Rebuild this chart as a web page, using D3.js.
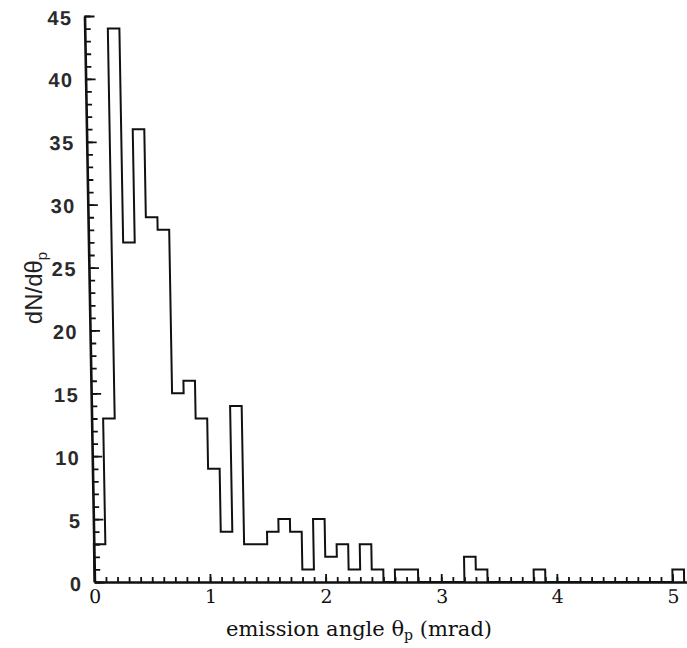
<html>
<head>
<meta charset="utf-8">
<title>Emission angle histogram</title>
<script src="https://d3js.org/d3.v7.min.js"></script>
<style>
  body { margin: 0; padding: 0; background: white; }
  .ylab { font-family: "Liberation Sans", Arial, sans-serif; font-size: 20px; font-weight: bold;
          letter-spacing: 1.5px; fill: #2a2a2a; }
  .xlab { font-family: "DejaVu Serif", serif; font-size: 19px; fill: #111; }
</style>
</head>
<body>
<script>
  var w = 687, h = 648;

  // counts per 0.1 mrad bin, starting at 0
  var binWidth = 0.1;
  var counts = [3, 13, 44, 27, 36, 29, 28, 15, 16, 13,
                9, 4, 14, 3, 3, 4, 5, 4, 1, 5,
                2, 3, 1, 3, 1, 0, 1, 1, 0, 0,
                0, 0, 2, 1, 0, 0, 0, 0, 1, 0,
                0, 0, 0, 0, 0, 0, 0, 0, 0, 0,
                1];
  var xMajor = [0, 1, 2, 3, 4, 5];
  var yMajor = [0, 5, 10, 15, 20, 25, 30, 35, 40, 45];

  var x = d3.scaleLinear().domain([0, 5.12]).range([94.5, 686.5]);
  var y = d3.scaleLinear().domain([0, 45]).range([582, 16]);

  var svg = d3.select("body").append("svg")
      .attr("width", w)
      .attr("height", h);

  svg.append("rect").attr("width", w).attr("height", h).attr("fill", "white");

  // the scanned figure leans a little to the left going up
  var g = svg.append("g")
      .attr("transform", "translate(" + (-0.0177 * 582) + ",0) skewX(1.01)");

  // minor ticks
  g.append("g")
      .attr("transform", "translate(0," + y(0) + ")")
      .call(d3.axisBottom(x).tickValues(d3.range(0, 51).map(function(i) { return i / 10; }))
            .tickSize(-5).tickFormat(""))
      .call(function(s) { s.select(".domain").remove(); });
  g.append("g")
      .attr("transform", "translate(" + x(0) + ",0)")
      .call(d3.axisLeft(y).tickValues(d3.range(0, 46)).tickSize(-6).tickFormat(""))
      .call(function(s) { s.select(".domain").remove(); });

  // major ticks + labels
  var xAxis = g.append("g")
      .attr("transform", "translate(0," + y(0) + ")")
      .call(d3.axisBottom(x).tickValues(xMajor).tickSize(-8).tickPadding(8)
            .tickSizeOuter(0).tickFormat(d3.format("d")));
  xAxis.selectAll("text").attr("class", "xlab").attr("font-family", null).attr("font-size", null)
      .attr("fill", null);

  var yAxis = g.append("g")
      .attr("transform", "translate(" + x(0) + ",0)")
      .call(d3.axisLeft(y).tickValues(yMajor).tickSize(-10).tickPadding(12)
            .tickSizeOuter(0).tickFormat(d3.format("d")));
  yAxis.selectAll("text").attr("class", "ylab").attr("font-family", null).attr("font-size", null)
      .attr("fill", null).attr("dy", "0.4em");

  g.selectAll(".tick line").attr("stroke", "#111").attr("stroke-width", 1.8);
  g.selectAll(".domain").attr("stroke", "#111").attr("stroke-width", 2.6);

  // histogram outline
  var p = d3.path();
  p.moveTo(x(0), y(0));
  counts.forEach(function(c, i) {
    p.lineTo(x(i * binWidth), y(c));
    p.lineTo(x((i + 1) * binWidth), y(c));
  });
  p.lineTo(x(counts.length * binWidth), y(0));

  g.append("path")
      .attr("d", p.toString())
      .attr("fill", "none")
      .attr("stroke", "#111")
      .attr("stroke-width", 2)
      .attr("stroke-linejoin", "miter");

  // axis titles
  var yt = svg.append("text")
      .attr("transform", "translate(42,288) rotate(-90)")
      .attr("text-anchor", "middle")
      .attr("font-family", "Liberation Sans, Arial, sans-serif")
      .attr("font-size", 24)
      .attr("fill", "#222");
  yt.append("tspan").text("dN/d\u03b8");
  yt.append("tspan").attr("font-size", 15).attr("dy", 5).text("p");

  var xt = svg.append("text")
      .attr("x", 359)
      .attr("y", 636)
      .attr("text-anchor", "middle")
      .attr("font-family", "DejaVu Serif, serif")
      .attr("font-size", 21)
      .attr("fill", "#111");
  xt.append("tspan").text("emission angle \u03b8");
  xt.append("tspan").attr("font-size", 14).attr("dy", 4).text("p");
  xt.append("tspan").attr("dy", -4).text(" (mrad)");
</script>
</body>
</html>
